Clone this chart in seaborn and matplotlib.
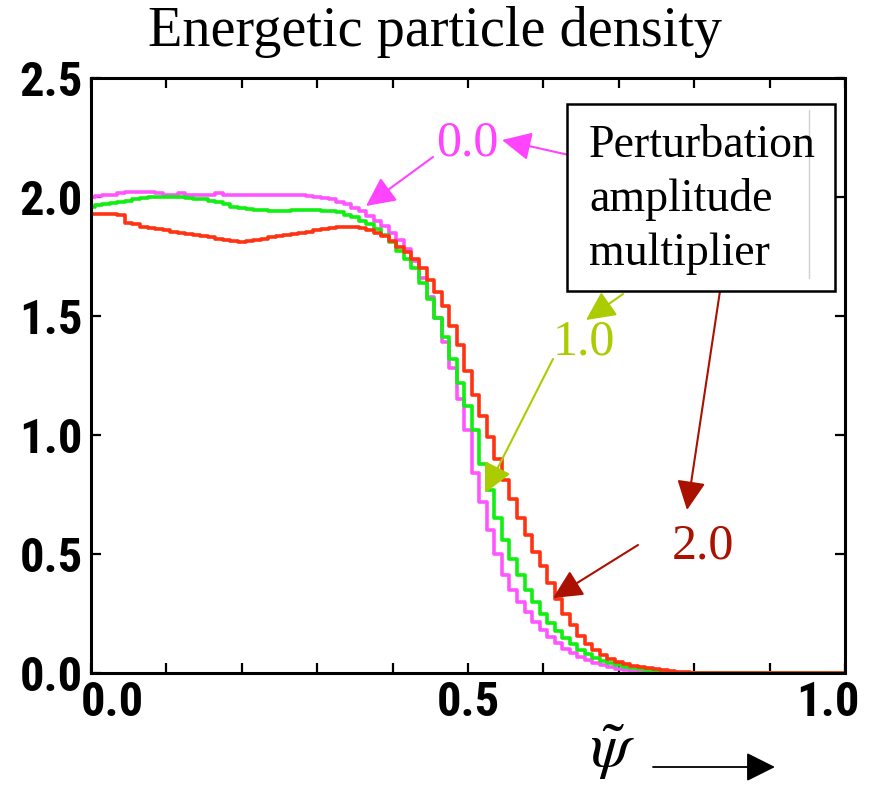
import numpy as np
import pandas as pd
import matplotlib
matplotlib.use("Agg")
import matplotlib.pyplot as plt
from matplotlib import font_manager
from matplotlib.font_manager import FontProperties
import matplotlib.transforms as mtransforms
import seaborn as sns

# ---------------- data ----------------
psi = [round(i * 0.01, 2) for i in range(101)]

dens_00 = [2.00, 2.005, 2.01, 2.01, 2.015, 2.02, 2.02, 2.02, 2.02, 2.015,
           2.01, 2.01, 2.015, 2.01, 2.01, 2.01, 2.01, 2.015, 2.01, 2.01,
           2.01, 2.01, 2.01, 2.01, 2.01, 2.01, 2.01, 2.01, 2.01, 2.005,
           2.00, 1.995, 1.99, 1.98, 1.97, 1.955, 1.94, 1.92, 1.90, 1.88,
           1.85, 1.82, 1.78, 1.73, 1.66, 1.58, 1.49, 1.39, 1.28, 1.15,
           1.02, 0.84, 0.72, 0.60, 0.50, 0.41, 0.35, 0.30, 0.255, 0.215,
           0.18, 0.15, 0.125, 0.10, 0.083, 0.068, 0.055, 0.043, 0.033, 0.025,
           0.018, 0.013, 0.009, 0.006, 0.004, 0.002, 0.001, 0.0, 0.0, 0.0,
           0.0, 0.0, 0.0, 0.0, 0.0, 0.0, 0.0, 0.0, 0.0, 0.0,
           0.0, 0.0, 0.0, 0.0, 0.0, 0.0, 0.0, 0.0, 0.0, 0.0, 0.0]

dens_10 = [1.96, 1.965, 1.97, 1.975, 1.98, 1.985, 1.99, 1.995, 2.00, 2.00,
           2.00, 2.00, 2.00, 1.995, 1.99, 1.99, 1.985, 1.98, 1.97, 1.96,
           1.955, 1.95, 1.945, 1.945, 1.94, 1.94, 1.94, 1.945, 1.945, 1.945,
           1.945, 1.94, 1.94, 1.935, 1.925, 1.915, 1.90, 1.885, 1.865, 1.84,
           1.81, 1.775, 1.74, 1.70, 1.64, 1.57, 1.49, 1.41, 1.32, 1.22,
           1.12, 1.02, 0.88, 0.77, 0.65, 0.56, 0.48, 0.41, 0.35, 0.30,
           0.25, 0.21, 0.175, 0.145, 0.12, 0.098, 0.08, 0.064, 0.051, 0.041,
           0.032, 0.025, 0.02, 0.015, 0.011, 0.008, 0.005, 0.003, 0.002, 0.001,
           0.0, 0.0, 0.0, 0.0, 0.0, 0.0, 0.0, 0.0, 0.0, 0.0,
           0.0, 0.0, 0.0, 0.0, 0.0, 0.0, 0.0, 0.0, 0.0, 0.0, 0.0]

dens_20 = [1.93, 1.93, 1.93, 1.93, 1.925, 1.89, 1.885, 1.875, 1.87, 1.865,
           1.86, 1.855, 1.85, 1.845, 1.84, 1.835, 1.83, 1.825, 1.82, 1.815,
           1.81, 1.815, 1.82, 1.825, 1.83, 1.835, 1.84, 1.845, 1.85, 1.855,
           1.86, 1.865, 1.87, 1.873, 1.875, 1.875, 1.87, 1.86, 1.85, 1.835,
           1.815, 1.79, 1.77, 1.74, 1.70, 1.65, 1.60, 1.54, 1.46, 1.38,
           1.27, 1.17, 1.08, 0.99, 0.90, 0.81, 0.73, 0.65, 0.58, 0.51,
           0.45, 0.38, 0.31, 0.25, 0.20, 0.155, 0.12, 0.095, 0.075, 0.06,
           0.048, 0.038, 0.03, 0.024, 0.019, 0.015, 0.012, 0.009, 0.006, 0.004,
           0.002, 0.001, 0.0, 0.0, 0.0, 0.0, 0.0, 0.0, 0.0, 0.0,
           0.0, 0.0, 0.0, 0.0, 0.0, 0.0, 0.0, 0.0, 0.0, 0.0, 0.0]

series_names = ["0.0", "1.0", "2.0"]
line_colors = ["#ff55ff", "#11ee11", "#ff3311"]
label_colors = ["#ff44ff", "#aacc00", "#aa1100"]

y_ticks = [0.0, 0.5, 1.0, 1.5, 2.0, 2.5]
y_ticklabels = ["0.0", "0.5", "1.0", "1.5", "2.0", "2.5"]
x_ticks = [0.0, 0.1, 0.2, 0.3, 0.4, 0.5, 0.6, 0.7, 0.8, 0.9, 1.0]
x_ticklabels = ["0.0", "", "", "", "", "0.5", "", "", "", "", "1.0"]

title = "Energetic particle density"
box_lines = ["Perturbation", "amplitude", "multiplier"]

df = pd.DataFrame({
    "psi": psi * 3,
    "density": dens_00 + dens_10 + dens_20,
    "mult": [series_names[0]] * len(psi) + [series_names[1]] * len(psi) + [series_names[2]] * len(psi),
})

# ---------------- style ----------------
sns.set_style("ticks")
serif = ["Liberation Serif", "DejaVu Serif"]
plt.rcParams["font.family"] = serif
plt.rcParams["mathtext.fontset"] = "stix"
plt.rcParams["text.color"] = "black"
plt.rcParams["xtick.color"] = "black"
plt.rcParams["ytick.color"] = "black"

# prefer a genuinely narrow bold sans for the tick labels
cond = None
prefs = ["liberationsansnarrow-bold.", "opensans_condensed-bold.", "opensanscondensed-bold.",
         "opensans-condensedbold.", "robotocondensed-bold."]
files = [f.fname for f in font_manager.fontManager.ttflist]
for p in prefs:
    for fn in files:
        if fn.lower().replace(" ", "").split("/")[-1].startswith(p):
            cond = fn
            break
    if cond:
        break
if cond is not None:
    tick_fp = FontProperties(fname=cond, size=35)
else:
    tick_fp = FontProperties(family=["Liberation Sans", "DejaVu Sans"], weight="bold", size=32)

W, H = 880, 786
fig = plt.figure(figsize=(W / 100, H / 100), dpi=100)
ax = fig.add_axes([91 / W, 1 - 673 / H, (845 - 91) / W, (673 - 78) / H])

sns.lineplot(data=df, x="psi", y="density", hue="mult", hue_order=series_names,
             palette=line_colors, estimator=None, sort=False, legend=False,
             drawstyle="steps-mid", linewidth=2.6, ax=ax)

ax.set_xlim(0, 1.0)
ax.set_ylim(0, 2.5)
ax.set_xlabel("")
ax.set_ylabel("")
ax.set_xticks(x_ticks)
ax.set_xticklabels(x_ticklabels)
ax.set_yticks(y_ticks)
ax.set_yticklabels(y_ticklabels)
for s in ax.spines.values():
    s.set_linewidth(2.2)
    s.set_color("black")
ax.tick_params(axis="both", direction="in", length=7, width=1.6,
               top=True, right=True, colors="black")
ax.tick_params(axis="x", pad=5)
ax.tick_params(axis="y", pad=6)
for lab in ax.get_xticklabels() + ax.get_yticklabels():
    lab.set_fontproperties(tick_fp)
    lab.set_color("black")
xl = ax.get_xticklabels()
xl[0].set_transform(xl[0].get_transform() +
                    mtransforms.ScaledTranslation(21 / 100, 0, fig.dpi_scale_trans))
xl[-1].set_transform(xl[-1].get_transform() +
                     mtransforms.ScaledTranslation(-17 / 100, 0, fig.dpi_scale_trans))

def fp(px, py):
    return (px / W, 1 - py / H)

fig.text(*fp(435, 32), title, ha="center", va="center", fontsize=40.5,
         family=serif, color="black")

# legend-like box
box = plt.Rectangle(fp(567, 291), (835 - 567) / W, (291 - 104) / H,
                    transform=fig.transFigure, fill=True, facecolor="white",
                    edgecolor="black", linewidth=1.8, zorder=5)
fig.add_artist(box)
fig.add_artist(plt.Line2D([809 / W, 809 / W], [1 - 110 / H, 1 - 278 / H],
                          transform=fig.transFigure, color="#d0d0d0", lw=1, zorder=6))
for t, by in zip(box_lines, [157, 211, 265]):
    fig.text(*fp(589, by), t, ha="left", va="baseline", fontsize=33,
             family=serif, color="black", zorder=7)

# labels and arrows
label_pos = [(467, 143), (584, 342), (703, 546)]
arrows = [
    [((569, 155), (502, 140)), ((433, 157), (366, 206))],
    [((623, 294), (586, 320)), ((553, 359), (485, 493))],
    [((720, 291), (687, 510)), ((638, 545), (553, 598))],
]
for name, col, pos, arrs in zip(series_names, label_colors, label_pos, arrows):
    fig.text(*fp(*pos), name, color=col, ha="center", va="center",
             fontsize=36, family=serif)
    for (tail, head) in arrs:
        ax.annotate("", xy=fp(*head), xytext=fp(*tail),
                    xycoords="figure fraction", textcoords="figure fraction",
                    arrowprops=dict(arrowstyle="-|>,head_length=0.45,head_width=0.22",
                                    mutation_scale=40, color=col, lw=1.5,
                                    shrinkA=0, shrinkB=0),
                    annotation_clip=False)

# psi axis label with arrow
fig.text(*fp(612, 752), r"$\tilde{\psi}$", ha="center", va="center",
         fontsize=46, color="black")
ax.annotate("", xy=fp(775, 767), xytext=fp(653, 767),
            xycoords="figure fraction", textcoords="figure fraction",
            arrowprops=dict(arrowstyle="-|>,head_length=0.5,head_width=0.25",
                            mutation_scale=36, color="black", lw=1.3,
                            shrinkA=0, shrinkB=0),
            annotation_clip=False)

fig.savefig("out.png", dpi=100)
